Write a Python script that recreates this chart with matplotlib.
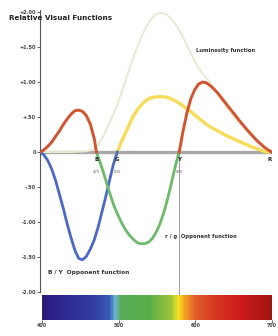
import numpy as np
import matplotlib
matplotlib.use('Agg')
import matplotlib.pyplot as plt
from matplotlib.colors import LinearSegmentedColormap

# Valores (longitud de onda en nm, respuesta relativa)
lum_nm = [400, 440, 460, 470, 475, 480, 485, 490, 495, 500, 505, 510, 515, 520, 525, 530,
          535, 540, 545, 550, 555, 560, 565, 570, 575, 580, 585, 590, 595, 600, 610, 620,
          630, 640, 650, 660, 670, 680, 690, 700]
lum_val = [0.0, 0.0, 0.01, 0.04, 0.1, 0.19, 0.3, 0.42, 0.55, 0.68, 0.84, 1.0, 1.17, 1.33,
           1.48, 1.62, 1.74, 1.84, 1.92, 1.97, 1.99, 1.98, 1.95, 1.9, 1.83, 1.74, 1.64, 1.53,
           1.41, 1.3, 1.12, 1.0, 0.82, 0.66, 0.52, 0.39, 0.27, 0.16, 0.07, 0.0]

yel_nm = [500, 505, 510, 515, 520, 525, 530, 535, 540, 545, 550, 555, 560, 565, 570, 575,
          580, 585, 590, 595, 600, 610, 620, 630, 640, 650, 660, 670, 680, 690, 695]
yel_val = [0.0, 0.14, 0.26, 0.38, 0.5, 0.59, 0.66, 0.72, 0.76, 0.78, 0.79, 0.79, 0.79, 0.78,
           0.76, 0.73, 0.7, 0.66, 0.62, 0.58, 0.53, 0.44, 0.36, 0.3, 0.24, 0.19, 0.14, 0.09,
           0.05, 0.01, 0.0]

blue_nm = [400, 405, 410, 415, 420, 425, 430, 435, 440, 445, 450, 455, 460, 465, 470, 475,
           480, 485, 490, 495, 500]
blue_val = [0.0, -0.04, -0.12, -0.24, -0.4, -0.6, -0.8, -1.02, -1.22, -1.4, -1.52, -1.54,
            -1.49, -1.39, -1.26, -1.08, -0.86, -0.64, -0.4, -0.17, 0.0]

red1_nm = [400, 405, 410, 415, 420, 425, 430, 435, 440, 445, 450, 455, 460, 465, 470, 473]
red1_val = [0.0, 0.03, 0.08, 0.14, 0.22, 0.3, 0.39, 0.47, 0.54, 0.59, 0.6, 0.58, 0.52, 0.4,
            0.2, 0.0]

green_nm = [473, 480, 485, 490, 495, 500, 505, 510, 515, 520, 525, 530, 535, 540, 545, 550,
            555, 560, 565, 570, 575, 580]
green_val = [0.0, -0.22, -0.4, -0.58, -0.75, -0.88, -1.0, -1.1, -1.18, -1.24, -1.29, -1.31,
             -1.31, -1.29, -1.24, -1.15, -1.03, -0.87, -0.67, -0.44, -0.2, 0.0]

red2_nm = [580, 585, 590, 595, 600, 605, 610, 615, 620, 625, 630, 640, 650, 660, 670, 680,
           690, 695, 700]
red2_val = [0.0, 0.3, 0.56, 0.76, 0.89, 0.97, 1.0, 0.99, 0.95, 0.9, 0.84, 0.7, 0.56, 0.42,
            0.29, 0.17, 0.07, 0.03, 0.0]

y_ticks = [2.0, 1.5, 1.0, 0.5, 0.0, -0.5, -1.0, -1.5, -2.0]
y_labels = ['+2.00', '+1.50', '+1.00', '+.50', '0', '-.50', '-1.00', '-1.50', '-2.00']

# puntos neutros sobre el eje
neutral_nm = [473, 500, 580]
neutral_letters = ['B', 'G', 'Y']
neutral_labels = ['475', '500', '580']

# espectro de la barra de color
spec_nm = [400, 430, 470, 488, 495, 502, 540, 568, 578, 586, 600, 630, 660, 700]
spec_colors = ['#2b1a7e', '#2f2a92', '#3440a4', '#3a5cb4', '#6ab8d8', '#58ac58', '#5aae4a',
               '#9cc43a', '#f4e21e', '#f2a424', '#e0602a', '#d43422', '#cc1c1a', '#a01414']
bar_ticks = [400, 500, 600, 700]

fig = plt.figure(figsize=(2.78, 3.36), dpi=100)
ax = fig.add_axes([40/278, 1-292/336, 232/278, 282/336])

ax.axhline(0, color='#a8a8a8', lw=2.4, zorder=1)
ax.plot([580, 580], [0, -2.05], color='#9a9a9a', lw=0.7, zorder=1, clip_on=False)

ax.plot(lum_nm, lum_val, color='#e6ead0', lw=1.4, zorder=2)
ax.plot(yel_nm, yel_val, color='#f6dc58', lw=2.4, zorder=3)
ax.plot(blue_nm, blue_val, color='#4a68c6', lw=2.0, zorder=3)
ax.plot(green_nm, green_val, color='#6cba6a', lw=2.0, zorder=3)
ax.plot(red1_nm, red1_val, color='#d2542e', lw=2.1, zorder=4)
ax.plot(red2_nm, red2_val, color='#d2542e', lw=2.1, zorder=4)

for nm, let, lab in zip(neutral_nm, neutral_letters, neutral_labels):
    ax.text(nm, -0.07, let, fontsize=4, fontweight='bold', color='#222222',
            ha='center', va='top', zorder=5)
    ax.text(nm, -0.26, lab, fontsize=2.8, color='#666666', ha='center', va='top')
ax.text(697, -0.07, 'R', fontsize=4, fontweight='bold', color='#222222',
        ha='center', va='top')

ax.text(640, 1.45, 'Luminosity function', fontsize=3.8, fontweight='bold',
        color='#333333', ha='center', va='center')
ax.text(562, -1.2, 'r / g  Opponent function', fontsize=3.8, fontweight='bold',
        color='#333333', ha='left', va='center')
ax.text(410, -1.72, 'B / Y  Opponent function', fontsize=4.2, fontweight='bold',
        color='#333333', ha='left', va='center')
fig.text(9/278, 1-18/336, 'Relative Visual Functions', fontsize=5.2,
         fontweight='bold', color='#222222', ha='left', va='center')

ax.set_xlim(400, 700)
ax.set_ylim(-2.0, 2.03)
ax.set_yticks(y_ticks)
ax.set_yticklabels(y_labels, fontsize=3.6, fontweight='bold', color='#333333')
ax.tick_params(axis='y', length=2, width=0.6, pad=1, colors='#444444')
ax.set_xticks([])
for s in ['top', 'right', 'bottom']:
    ax.spines[s].set_visible(False)
ax.spines['left'].set_color('#555555')
ax.spines['left'].set_linewidth(0.8)

# barra del espectro
cax = fig.add_axes([42/278, 1-320/336, 230/278, 25/336])
pos = [(n - 400) / 300 for n in spec_nm]
cmap = LinearSegmentedColormap.from_list('spec', list(zip(pos, spec_colors)))
grad = np.linspace(0, 1, 300).reshape(1, -1)
cax.imshow(grad, aspect='auto', cmap=cmap, extent=[400, 700, 0, 1])
cax.set_xlim(400, 700)
cax.set_yticks([])
cax.set_xticks(bar_ticks)
cax.set_xticklabels([str(t) for t in bar_ticks], fontsize=3.4, fontweight='bold', color='#333333')
cax.tick_params(axis='x', length=2, width=0.6, pad=0.5, colors='#444444')
for s in cax.spines.values():
    s.set_visible(False)

fig.savefig('out.png', dpi=100)
